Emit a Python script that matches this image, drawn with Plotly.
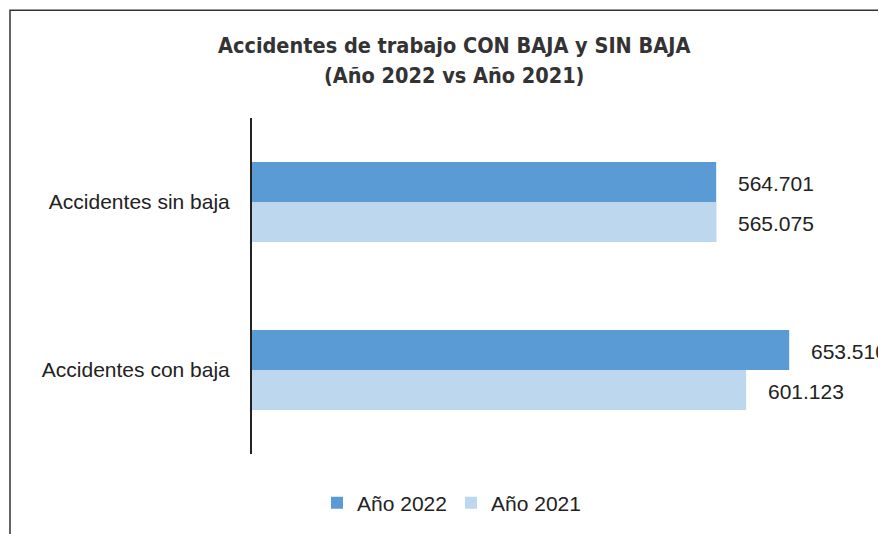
import plotly.graph_objects as go

categories = ["Accidentes con baja", "Accidentes sin baja"]
values_2022 = [653510, 564701]
values_2021 = [601123, 565075]
labels_2022 = ["653.510", "564.701"]
labels_2021 = ["601.123", "565.075"]

OFF = 8  # page body margin
W, H = 886 - OFF, 534 - OFF
L = 252 - OFF
T = 118 - OFF
B = H - (455 - OFF)
R = W - (870 - OFF)
pw = W - L - R
ph = H - T - B


def px_to_xp(px):
    return (px - OFF - L) / pw


def py_to_yp(py):
    return (H - B - (py - OFF)) / ph


num_font = dict(family="Liberation Sans, Arial", size=21, color="#222")

fig = go.Figure()
fig.add_trace(go.Bar(
    y=categories, x=values_2021, orientation="h", name="Año 2021",
    marker=dict(color="#BDD7EE", line=dict(width=0)), legendrank=2,
))
fig.add_trace(go.Bar(
    y=categories, x=values_2022, orientation="h", name="Año 2022",
    marker=dict(color="#5B9BD5", line=dict(width=0)), legendrank=1,
))

annotations = []
for cat, v, lab in zip(categories, values_2022, labels_2022):
    annotations.append(dict(x=v, y=cat, text=lab, xref="x", yref="y", showarrow=False,
                            xanchor="left", xshift=20, yshift=19, font=num_font))
for cat, v, lab in zip(categories, values_2021, labels_2021):
    annotations.append(dict(x=v, y=cat, text=lab, xref="x", yref="y", showarrow=False,
                            xanchor="left", xshift=20, yshift=-21, font=num_font))

title_font = dict(family="Liberation Sans Narrow, Arial Narrow, DejaVu Sans Condensed, Liberation Sans",
                  size=21.5, color="#333")
annotations.append(dict(x=px_to_xp(454), y=py_to_yp(45), xref="paper", yref="paper",
                        text="<b>Accidentes de trabajo CON BAJA y SIN BAJA</b>", showarrow=False,
                        xanchor="center", yanchor="middle", font=title_font))
annotations.append(dict(x=px_to_xp(454), y=py_to_yp(75), xref="paper", yref="paper",
                        text="<b>(Año 2022 vs Año 2021)</b>", showarrow=False,
                        xanchor="center", yanchor="middle", font=title_font))

fig.update_layout(
    width=W, height=H,
    margin=dict(l=L, r=R, t=T, b=B),
    paper_bgcolor="white", plot_bgcolor="white",
    barmode="group", bargap=0.525, bargroupgap=0,
    showlegend=True,
    legend=dict(orientation="h", x=px_to_xp(317), y=py_to_yp(503), xanchor="left", yanchor="middle",
                font=dict(family="Liberation Sans, Arial", size=21, color="#222"),
                entrywidth=89, entrywidthmode="pixels", traceorder="normal"),
    annotations=annotations,
    shapes=[dict(type="rect", xref="paper", yref="paper",
                 x0=px_to_xp(10), x1=px_to_xp(900), y0=py_to_yp(560), y1=py_to_yp(10),
                 line=dict(color="#333", width=1.5), fillcolor="rgba(0,0,0,0)", layer="below")],
    xaxis=dict(range=[0, pw / 0.000822], visible=False, showgrid=False, zeroline=False),
    yaxis=dict(showline=True, linecolor="#222", linewidth=2, ticks="", showgrid=False,
               ticklabelstandoff=16,
               tickfont=dict(family="Liberation Sans, Arial", size=21, color="#222")),
)

fig.write_html("out.html")
